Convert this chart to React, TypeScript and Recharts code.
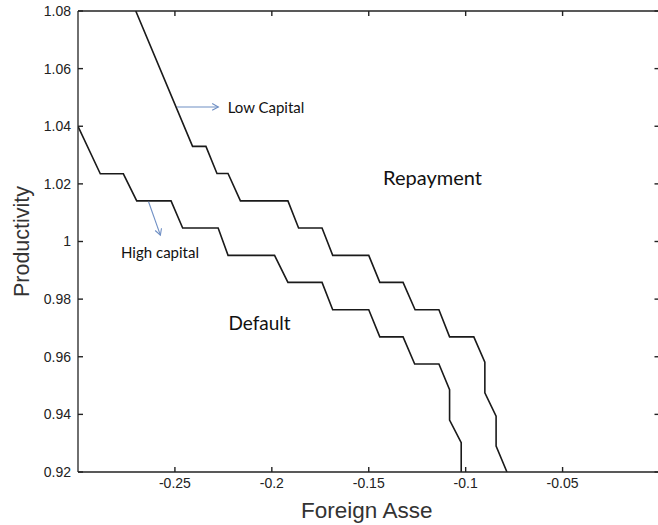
import React from 'react';
import { LineChart, Line, XAxis, YAxis, ReferenceLine, ReferenceDot, Label } from 'recharts';

// Default threshold for the low-capital economy (foreign assets vs productivity)
const lowCapitalAssets = [
  -0.2702, -0.2409, -0.234, -0.2283, -0.2226, -0.2162, -0.1917, -0.1862, -0.1741, -0.1686,
  -0.15, -0.1443, -0.1323, -0.1261, -0.1138, -0.1083, -0.0958, -0.0901, -0.0901, -0.0843,
  -0.0843, -0.0787,
];
const lowCapitalProductivity = [
  1.08, 1.033, 1.033, 1.0236, 1.0236, 1.0141, 1.0141, 1.0047, 1.0047, 0.9952,
  0.9952, 0.9858, 0.9858, 0.9763, 0.9763, 0.9669, 0.9669, 0.9581, 0.9475, 0.9394,
  0.929, 0.92,
];

// Default threshold for the high-capital economy
const highCapitalAssets = [
  -0.3, -0.2885, -0.2766, -0.2697, -0.252, -0.246, -0.2277, -0.2226, -0.1986, -0.1917,
  -0.1741, -0.1686, -0.15, -0.1443, -0.1323, -0.1263, -0.1138, -0.1083, -0.1083, -0.1023,
  -0.1023,
];
const highCapitalProductivity = [
  1.04, 1.0235, 1.0235, 1.0141, 1.0141, 1.0047, 1.0047, 0.9952, 0.9952, 0.9858,
  0.9858, 0.9763, 0.9763, 0.9669, 0.9669, 0.9575, 0.9575, 0.9486, 0.938, 0.9302,
  0.92,
];

const xTicks = [-0.25, -0.2, -0.15, -0.1, -0.05];
const xTickLabels = ['-0.25', '-0.2', '-0.15', '-0.1', '-0.05'];
const yTicks = [0.92, 0.94, 0.96, 0.98, 1, 1.02, 1.04, 1.06, 1.08];
const yTickLabels = ['0.92', '0.94', '0.96', '0.98', '1', '1.02', '1.04', '1.06', '1.08'];

const xDomain: [number, number] = [-0.3, 0];
const yDomain: [number, number] = [0.92, 1.08];

const lowCapital = lowCapitalAssets.map((x, i) => ({ x, y: lowCapitalProductivity[i] }));
const highCapital = highCapitalAssets.map((x, i) => ({ x, y: highCapitalProductivity[i] }));

const AXIS_COLOR = '#222';
const TICK_FONT = '"Liberation Sans", Arial, sans-serif';
const NOTE_FONT = 'Lato, "Open Sans", sans-serif';
const ARROW_COLOR = '#6f8fc4';
const INWARD = -5; // negative tick size draws the tick marks inside the box
const axisLineStyle = { stroke: AXIS_COLOR, strokeWidth: 1.3 };
const tickLineStyle = { stroke: AXIS_COLOR, strokeWidth: 1.4 };
const tickText = { fontFamily: TICK_FONT, fontSize: 14, fill: '#222' };

const fmt = (labels: string[], values: number[]) => (v: number) => {
  const i = values.findIndex((t) => Math.abs(t - v) < 1e-9);
  return i >= 0 ? labels[i] : String(v);
};

// Top and right edges carry tick marks but no labels
const NoLabel = () => <g />;

// Annotation arrow with an open chevron head
const Arrow = (props: any) => {
  const { x1, y1, x2, y2 } = props;
  if ([x1, y1, x2, y2].some((v) => typeof v !== 'number' || isNaN(v))) return null;
  const ang = Math.atan2(y2 - y1, x2 - x1);
  const head = 7;
  const spread = 0.5;
  const ax = x2 - head * Math.cos(ang - spread);
  const ay = y2 - head * Math.sin(ang - spread);
  const bx = x2 - head * Math.cos(ang + spread);
  const by = y2 - head * Math.sin(ang + spread);
  return (
    <g stroke={ARROW_COLOR} strokeWidth={1.1} fill="none">
      <line x1={x1} y1={y1} x2={x2} y2={y2} />
      <polyline points={`${ax},${ay} ${x2},${y2} ${bx},${by}`} />
    </g>
  );
};

const note = (text: string, size: number) => (props: any) => {
  const { cx, cy } = props;
  if (typeof cx !== 'number' || typeof cy !== 'number') return null;
  return (
    <text x={cx} y={cy} dominantBaseline="central" fontFamily={NOTE_FONT} fontSize={size} fill="#111">
      {text}
    </text>
  );
};

const XTitle = (props: any) => {
  const vb = props.viewBox || {};
  return (
    <text x={vb.x + vb.width / 2 - 2} y={vb.y + 38} textAnchor="middle" dominantBaseline="central" fontFamily={TICK_FONT} fontSize={22.5} fill="#333">
      Foreign Asse
    </text>
  );
};

const YTitle = (props: any) => {
  const vb = props.viewBox || {};
  const cy = vb.y + vb.height / 2;
  const cx = 22;
  return (
    <text x={cx} y={cy} transform={`rotate(-90 ${cx} ${cy})`} textAnchor="middle" dominantBaseline="central" fontFamily={TICK_FONT} fontSize={21.5} fill="#333">
      Productivity
    </text>
  );
};

export default function App() {
  return (
    <div style={{ position: 'absolute', left: 0, top: 0, width: 658, height: 525, overflow: 'hidden', background: '#fff' }}>
      <LineChart width={662} height={525} margin={{ top: 10, right: 1.5, bottom: 0, left: 0 }}>
        <XAxis
          xAxisId="bottom"
          dataKey="x"
          type="number"
          domain={xDomain}
          ticks={xTicks}
          allowDataOverflow
          height={53}
          tickSize={INWARD}
          tickMargin={11}
          tickFormatter={fmt(xTickLabels, xTicks)}
          tick={tickText}
          tickLine={tickLineStyle}
          axisLine={axisLineStyle}
        >
          <Label content={<XTitle />} />
        </XAxis>
        <XAxis
          xAxisId="top"
          orientation="top"
          dataKey="x"
          type="number"
          domain={xDomain}
          ticks={xTicks}
          allowDataOverflow
          height={1}
          tickSize={INWARD}
          tick={<NoLabel />}
          tickLine={tickLineStyle}
          axisLine={axisLineStyle}
        />
        <YAxis
          yAxisId="left"
          type="number"
          domain={yDomain}
          ticks={yTicks}
          allowDataOverflow
          width={78}
          tickSize={INWARD}
          tickMargin={12}
          tickFormatter={fmt(yTickLabels, yTicks)}
          tick={tickText}
          tickLine={tickLineStyle}
          axisLine={axisLineStyle}
        >
          <Label content={<YTitle />} />
        </YAxis>
        <YAxis
          yAxisId="right"
          orientation="right"
          type="number"
          domain={yDomain}
          ticks={yTicks}
          allowDataOverflow
          width={1}
          tickSize={INWARD}
          tick={<NoLabel />}
          tickLine={tickLineStyle}
          axisLine={axisLineStyle}
        />

        <Line
          xAxisId="bottom"
          yAxisId="left"
          data={lowCapital}
          dataKey="y"
          type="linear"
          stroke="#1a1a1a"
          strokeWidth={1.6}
          dot={false}
          activeDot={false}
          isAnimationActive={false}
        />
        <Line
          xAxisId="bottom"
          yAxisId="left"
          data={highCapital}
          dataKey="y"
          type="linear"
          stroke="#1a1a1a"
          strokeWidth={1.6}
          dot={false}
          activeDot={false}
          isAnimationActive={false}
        />

        <ReferenceLine
          xAxisId="bottom"
          yAxisId="left"
          segment={[{ x: -0.2489, y: 1.0467 }, { x: -0.2276, y: 1.0467 }]}
          shape={<Arrow />}
        />
        <ReferenceLine
          xAxisId="bottom"
          yAxisId="left"
          segment={[{ x: -0.2636, y: 1.0138 }, { x: -0.2575, y: 1.0022 }]}
          shape={<Arrow />}
        />

        <ReferenceDot xAxisId="bottom" yAxisId="left" x={-0.2228} y={1.0467} r={1} shape={note('Low Capital', 15)} />
        <ReferenceDot xAxisId="bottom" yAxisId="left" x={-0.2778} y={0.9964} r={1} shape={note('High capital', 15)} />
        <ReferenceDot xAxisId="bottom" yAxisId="left" x={-0.1426} y={1.0225} r={1} shape={note('Repayment', 20)} />
        <ReferenceDot xAxisId="bottom" yAxisId="left" x={-0.2224} y={0.972} r={1} shape={note('Default', 19)} />
      </LineChart>
    </div>
  );
}
